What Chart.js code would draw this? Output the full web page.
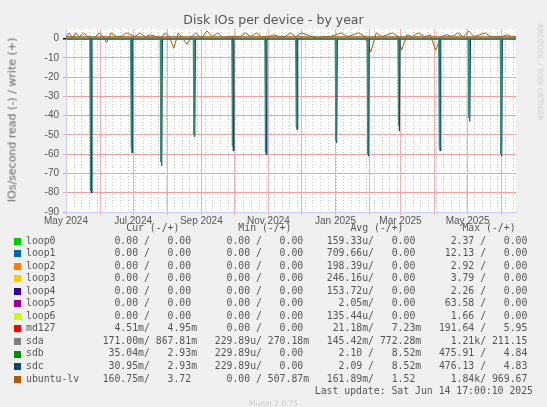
<!DOCTYPE html>
<html>
<head>
<meta charset="utf-8">
<script src="https://cdn.jsdelivr.net/npm/chart.js@4/dist/chart.umd.min.js"></script>
<style>
body { margin: 0; background: #f0f0f0; width: 547px; height: 407px; overflow: hidden; position: relative; font-family: "DejaVu Sans", sans-serif; }
#wrap { position: absolute; left: 0; top: 0; width: 547px; height: 232px; }
.abs { position: absolute; white-space: pre; }
#legend { left: 26px; top: 222px; font: 9.8px/12.55px "DejaVu Sans Mono", monospace; color: #555; }
.sw { position: absolute; width: 7px; height: 7px; }
</style>
</head>
<body>
<div id="wrap"><canvas id="c"></canvas></div>
<div class="abs" style="left:0;top:12px;width:547px;text-align:center;font-size:12.5px;color:#555">Disk IOs per device - by year</div>
<div class="abs" style="left:12px;top:120px;font-size:11px;color:#666;transform:translate(-50%,-50%) rotate(-90deg)">IOs/second read (-) / write (+)</div>
<div class="abs" style="left:540px;top:72px;font-size:7.5px;color:#ccc;transform:translate(-50%,-50%) rotate(90deg)">RRDTOOL / TOBI OETIKER</div>
<div class="abs" id="legend"></div>
<div class="abs" style="right:14px;top:385px;font:9.8px 'DejaVu Sans Mono',monospace;color:#555">Last update: Sat Jun 14 17:00:10 2025</div>
<div class="abs" style="left:0;top:399px;width:547px;text-align:center;font-size:7.5px;color:#ccc">Munin 2.0.75</div>
<script>
// days counted from 2024-05-01
var monthDays = [0, 31, 61, 92, 123, 153, 184, 214, 245, 276, 304, 335, 365, 396];
var monthLabels = ['May 2024', '', 'Jul 2024', '', 'Sep 2024', '', 'Nov 2024', '', 'Jan 2025', '', 'Mar 2025', '', 'May 2025', ''];

var spikeDays = [23, 60, 87, 117, 152, 182, 210, 246, 275, 303, 340, 367, 396];
var sdcSpikes = [-80, -59, -66, -51, -58, -60, -47, -54, -61, -48, -58, -43, -61];
var sdbSpikes = [-79, -57, -64, -50, -56, -59, -46, -53, -60, -45, -57, -41, -60];

var lvDays = [0, 3, 6, 9, 12, 16, 20, 25, 30, 34, 37, 41, 46, 50, 55, 59, 63, 67, 72, 77, 82, 86, 90, 94, 98, 102, 105, 110, 114, 118, 123, 128, 133, 138, 143, 148, 153, 158, 163, 168, 173, 178, 184, 189, 194, 199, 204, 209, 214, 219, 224, 229, 234, 240, 245, 250, 256, 261, 266, 272, 277, 282, 287, 292, 297, 302, 305, 310, 315, 320, 326, 331, 336, 341, 346, 351, 356, 361, 366, 371, 376, 381, 386, 391, 396, 401, 405, 409];
var lvVals = [1, 3, 0, 3, 1, 3, 1, 0, 3, 1, -2, 3, 1, 1, 3, 2, 1, 3, 1, 2, 1, 0, 3, 1, -5, 3, 1, -3, 1, 3, 0, 4, 1, 3, 0, 1, 1, 1, 3, 1, 3, 1, 1, 2, 1, 1, 3, 1, 3, 2, 1, 0, 1, 1, 2, 3, 1, 2, 3, 1, -7, 3, 1, 2, 3, 1, -6, 2, 1, 3, 1, 2, -6, 1, 2, 1, 3, 1, 4, 1, 2, 3, 1, 1, 1, 2, 1, 1, 4];

function spikeSeries(vals, shift) {
	var pts = [{ x: 0, y: 0 }];
	for (var i = 0; i < spikeDays.length; i++) {
		var d = spikeDays[i] + shift;
		pts.push({ x: d - 0.6, y: 0 }, { x: d, y: vals[i] }, { x: d + 0.6, y: 0 });
	}
	pts.push({ x: 409, y: 0 });
	return pts;
}
var lvPts = lvDays.map(function (d, i) { return { x: d, y: lvVals[i] }; });

var gridPlugin = {
	id: 'minorX',
	beforeDatasetsDraw: function (chart) {
		var ctx = chart.ctx, a = chart.chartArea, xs = chart.scales.x;
		ctx.save();
		ctx.strokeStyle = '#ccc';
		ctx.setLineDash([1, 2]);
		ctx.lineWidth = 1;
		for (var d = 7; d < 409; d += 7) {
			var px = Math.round(xs.getPixelForValue(d)) + 0.5;
			ctx.beginPath(); ctx.moveTo(px, a.top); ctx.lineTo(px, a.bottom); ctx.stroke();
		}
		ctx.restore();
	}
};
var bgPlugin = {
	id: 'bg',
	beforeDraw: function (chart) {
		var a = chart.chartArea;
		chart.ctx.fillStyle = '#fff';
		chart.ctx.fillRect(a.left, a.top, a.right - a.left, a.bottom - a.top);
	}
};

new Chart(document.getElementById('c').getContext('2d'), {
	type: 'line',
	data: {
		datasets: [{
			label: 'sdb', data: spikeSeries(sdbSpikes, -0.8),
			borderColor: '#3a8f70', borderWidth: 1, pointRadius: 0, tension: 0
		}, {
			label: 'sdc', data: spikeSeries(sdcSpikes, 0),
			borderColor: '#00487d', borderWidth: 1.2, pointRadius: 0, tension: 0
		}, {
			label: 'ubuntu-lv', data: lvPts,
			borderColor: '#b35a00', borderWidth: 1, pointRadius: 0, tension: 0
		}, {
			label: 'base', data: [{ x: 0, y: 0.9 }, { x: 409, y: 0.9 }],
			borderColor: '#b35a00', borderWidth: 1.5, pointRadius: 0
		}]
	},
	options: {
		animation: false,
		responsive: true,
		maintainAspectRatio: false,
		layout: { padding: { left: 0, right: 31, top: 29, bottom: 0 } },
		plugins: { legend: { display: false }, tooltip: { enabled: false } },
		scales: {
			x: {
				type: 'linear', min: 0, max: 409,
				afterBuildTicks: function (s) { s.ticks = monthDays.map(function (d) { return { value: d }; }); },
				afterFit: function (s) { s.height = 20; },
				ticks: {
					autoSkip: false, maxRotation: 0, color: '#555', font: { size: 10 }, padding: 0,
					callback: function (v) { var i = monthDays.indexOf(v); return i >= 0 ? monthLabels[i] : ''; }
				},
				grid: { color: '#f0b0b0', tickLength: 3, lineWidth: 1 },
				border: { color: '#ccccff', dash: [] }
			},
			y: {
				min: -90, max: 5,
				afterFit: function (s) { s.width = 66; },
				afterBuildTicks: function (s) {
					var t = [];
					for (var v = -90; v <= 5; v += 5) t.push({ value: v });
					s.ticks = t;
				},
				ticks: {
					color: '#555', font: { size: 10 }, padding: 4,
					callback: function (v) { return (v % 10 === 0 && v <= 0) ? v : ''; }
				},
				grid: {
					color: function (c) { return c.tick.value === 0 ? '#000' : (c.tick.value % 10 === 0 ? '#f0a0a0' : '#ddd'); },
					lineWidth: function (c) { return c.tick.value === 0 ? 1.5 : 1; },
					tickLength: 3
				},
				border: { color: '#ccccff' }
			}
		}
	},
	plugins: [bgPlugin, gridPlugin]
});

// legend table
var legNames = ['loop0', 'loop1', 'loop2', 'loop3', 'loop4', 'loop5', 'loop6', 'md127', 'sda', 'sdb', 'sdc', 'ubuntu-lv'];
var legColors = ['#00cc00', '#0066b3', '#ff8000', '#ffcc00', '#330099', '#990099', '#ccff00', '#ff0000', '#808080', '#008f00', '#00487d', '#b35a00'];
var legCur = [['0.00 ', '0.00 '], ['0.00 ', '0.00 '], ['0.00 ', '0.00 '], ['0.00 ', '0.00 '], ['0.00 ', '0.00 '], ['0.00 ', '0.00 '], ['0.00 ', '0.00 '], ['4.51m', '4.95m'], ['171.00m', '867.81m'], ['35.04m', '2.93m'], ['30.95m', '2.93m'], ['160.75m', '3.72 ']];
var legMin = [['0.00 ', '0.00 '], ['0.00 ', '0.00 '], ['0.00 ', '0.00 '], ['0.00 ', '0.00 '], ['0.00 ', '0.00 '], ['0.00 ', '0.00 '], ['0.00 ', '0.00 '], ['0.00 ', '0.00 '], ['229.89u', '270.18m'], ['229.89u', '0.00 '], ['229.89u', '0.00 '], ['0.00 ', '507.87m']];
var legAvg = [['159.33u', '0.00 '], ['709.66u', '0.00 '], ['198.39u', '0.00 '], ['246.16u', '0.00 '], ['153.72u', '0.00 '], ['2.05m', '0.00 '], ['135.44u', '0.00 '], ['21.18m', '7.23m'], ['145.42m', '772.28m'], ['2.10 ', '8.52m'], ['2.09 ', '8.52m'], ['161.89m', '1.52 ']];
var legMax = [['2.37 ', '0.00 '], ['12.13 ', '0.00 '], ['2.92 ', '0.00 '], ['3.79 ', '0.00 '], ['2.26 ', '0.00 '], ['63.58 ', '0.00 '], ['1.66 ', '0.00 '], ['191.64 ', '5.95 '], ['1.21k', '211.15 '], ['475.91 ', '4.84 '], ['476.13 ', '4.83 '], ['1.84k', '969.67 ']];

function pad(s, n) { while (s.length < n) s = ' ' + s; return s; }
function pair(p) { return pad(p[0], 7) + '/' + pad(p[1], 8); }
var lines = ['             ' + '    Cur (-/+)      ' + '    Min (-/+)      ' + '    Avg (-/+)      ' + '    Max (-/+)'];
var html = '';
for (var i = 0; i < legNames.length; i++) {
	var n = legNames[i];
	while (n.length < 12) n += ' ';
	lines.push(n + ' ' + pair(legCur[i]) + '   ' + pair(legMin[i]) + '   ' + pair(legAvg[i]) + '   ' + pair(legMax[i]));
	html += '<div class="sw" style="left:-12px;top:' + (12.55 * (i + 1) + 3) + 'px;background:' + legColors[i] + '"></div>';
}
var leg = document.getElementById('legend');
leg.textContent = lines.join('\n');
leg.insertAdjacentHTML('beforeend', html);
</script>
</body>
</html>
